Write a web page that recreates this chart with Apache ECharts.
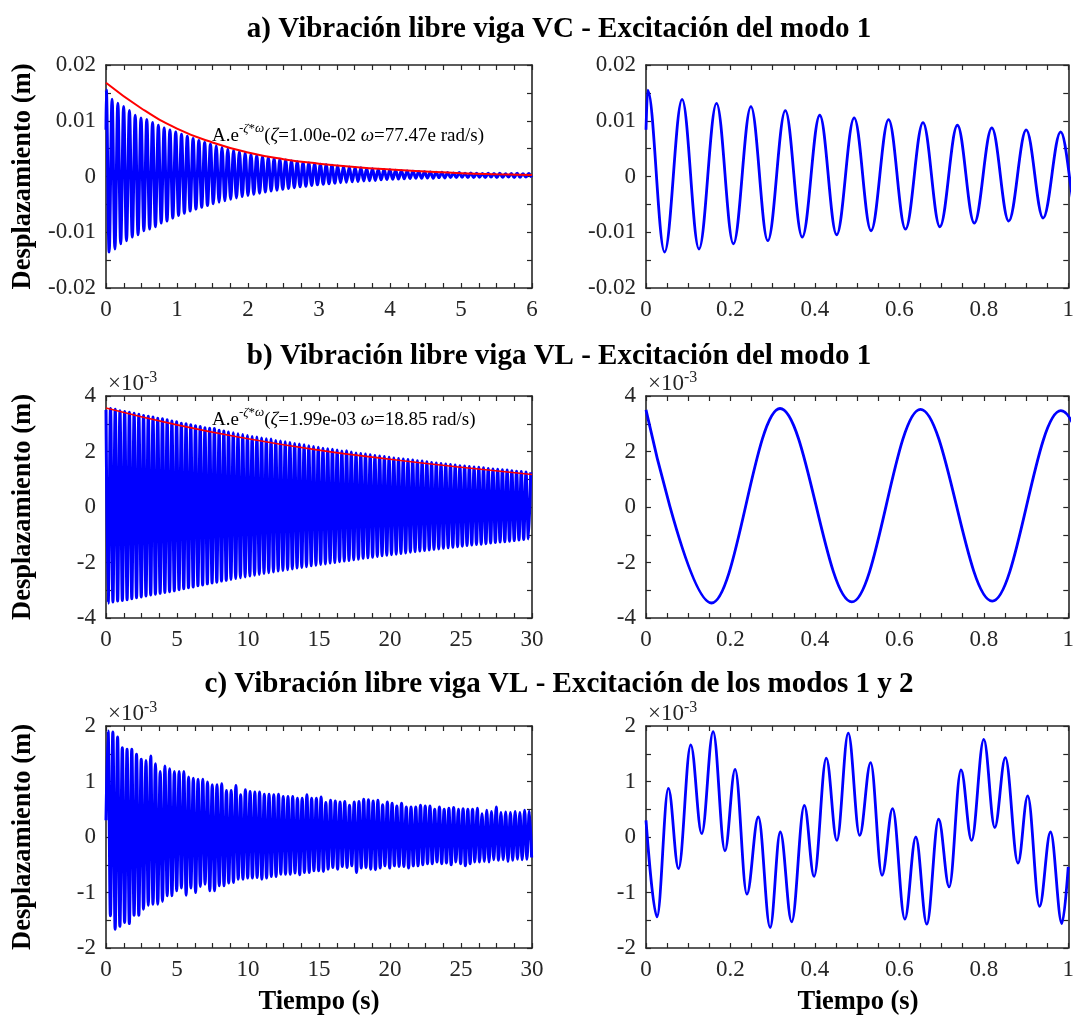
<!DOCTYPE html>
<html>
<head>
<meta charset="utf-8">
<script src="https://cdn.jsdelivr.net/npm/echarts@6.0.0/dist/echarts.min.js"></script>
<style>
html, body { margin: 0; padding: 0; background: #fff; }
#main { width: 1077px; height: 1019px; }
</style>
</head>
<body>
<div id="main"></div>
<script>
// ---- a) viga VC, modo 1 : extremos de cada ciclo (mm) ----
var aStart = 8.4;
var aPeriod = 0.0815;
var aPeakT0 = 0.004;
var aTroughT0 = 0.044;
var aPeaks = [15.5, 13.85, 13.13, 12.54, 11.82, 10.99, 10.51, 10.21, 9.67, 9.19, 8.72, 8.36, 8.0,
  7.6, 7.2, 6.8, 6.45, 6.1, 5.8, 5.5, 5.2, 4.95, 4.7, 4.45, 4.2, 4.0, 3.8, 3.6, 3.4, 3.25, 3.1,
  2.95, 2.8, 2.65, 2.5, 2.4, 2.3, 2.2, 2.1, 2.0, 1.9, 1.8, 1.7, 1.6, 1.55, 1.45, 1.4, 1.3, 1.25,
  1.2, 1.1, 1.05, 1.0, 0.95, 0.9, 0.85, 0.8, 0.75, 0.75, 0.7, 0.65, 0.7, 0.6, 0.65, 0.6, 0.55,
  0.6, 0.55, 0.6, 0.5, 0.55, 0.6, 0.5, 0.55];
var aTroughs = [-13.55, -13.0, -12.06, -11.52, -10.87, -10.45, -9.73, -9.43, -9.01, -8.36, -8.0, -7.46,
  -7.0, -6.6, -6.2, -5.85, -5.5, -5.2, -4.9, -4.6, -4.35, -4.1, -3.85, -3.6, -3.4, -3.2, -3.0,
  -2.8, -2.6, -2.45, -2.3, -2.15, -2.0, -1.85, -1.75, -1.6, -1.5, -1.4, -1.3, -1.2, -1.1, -1.05,
  -0.95, -0.9, -0.8, -0.75, -0.7, -0.6, -0.55, -0.5, -0.45, -0.4, -0.35, -0.3,
  -0.3, -0.25, -0.3, -0.2, -0.25, -0.2, -0.2, -0.15, -0.2, -0.2, -0.15, -0.2, -0.1, -0.2,
  -0.15, -0.1, -0.2, -0.15, -0.1, -0.15];
// curva de ajuste roja (mm)
var aFitT = [0, 0.5, 1, 1.5, 2, 2.5, 3, 3.5, 4, 4.5, 5, 5.5, 6];
var aFit = [16.8, 12.2, 8.6, 6.1, 4.3, 3.1, 2.3, 1.7, 1.25, 0.9, 0.6, 0.4, 0.25];

// ---- b) viga VL, modo 1 (x1e-3 m) ----
var bStart = 3.5;
var bPeriod = 0.3325;
var bTroughT0 = 0.155;
var bPeakT0 = 0.3175;
var bPeaks = [3.55, 3.52, 3.47, 3.44, 3.41, 3.38, 3.34, 3.30, 3.27, 3.24, 3.20, 3.18, 3.14, 3.10, 3.07,
  3.02, 3.00, 2.96, 2.93, 2.90, 2.86, 2.84, 2.83, 2.77, 2.74, 2.70, 2.68, 2.64, 2.61, 2.58,
  2.54, 2.52, 2.49, 2.46, 2.45, 2.40, 2.38, 2.35, 2.32, 2.29, 2.27, 2.24, 2.21, 2.18, 2.15,
  2.12, 2.10, 2.08, 2.05, 2.02, 2.03, 1.98, 1.95, 1.93, 1.91, 1.88, 1.86, 1.84, 1.82, 1.79,
  1.77, 1.75, 1.73, 1.71, 1.69, 1.67, 1.66, 1.63, 1.60, 1.59, 1.57, 1.55, 1.53, 1.51, 1.49,
  1.48, 1.46, 1.44, 1.43, 1.41, 1.39, 1.37, 1.36, 1.34, 1.33, 1.31, 1.29, 1.28, 1.26, 1.25];
var bTroughs = [-3.46, -3.42, -3.39, -3.37, -3.34, -3.31, -3.27, -3.24, -3.21, -3.17, -3.14, -3.11, -3.08, -3.05, -3.02,
  -2.98, -2.95, -2.91, -2.88, -2.84, -2.81, -2.77, -2.74, -2.71, -2.67, -2.64, -2.61, -2.58, -2.55, -2.52,
  -2.49, -2.46, -2.43, -2.40, -2.37, -2.34, -2.31, -2.29, -2.26, -2.23, -2.20, -2.18, -2.15, -2.12, -2.10,
  -2.07, -2.05, -2.02, -2.00, -1.97, -1.95, -1.93, -1.90, -1.88, -1.85, -1.83, -1.81, -1.78, -1.76, -1.74,
  -1.72, -1.70, -1.68, -1.66, -1.63, -1.61, -1.59, -1.57, -1.55, -1.53, -1.51, -1.49, -1.47, -1.45, -1.43,
  -1.41, -1.39, -1.37, -1.35, -1.34, -1.32, -1.30, -1.28, -1.26, -1.25, -1.23, -1.21, -1.19, -1.17, -1.15];
var bFitT = [0, 5, 10, 15, 20, 25, 30];
var bFit = [3.57, 2.96, 2.46, 2.05, 1.72, 1.43, 1.17];

// ---- c) viga VL, modos 1 y 2 (x1e-3 m) ----
// maximos y minimos de cada ciclo del modo 1 (registro completo)
var cStart = 0.3;
var cPeriod = 0.3333;
var cMaxT0 = 0.15;
var cMinT0 = 0.31;
var cMax = [1.91, 1.89, 1.80, 1.61, 1.58, 1.58, 1.49, 1.40, 1.38, 1.46, 1.32, 1.18, 1.28, 1.23, 1.18,
  1.18, 1.18, 1.08, 1.06, 1.04, 1.04, 0.99, 0.94, 0.94, 0.96, 0.84, 0.84, 0.93, 0.76, 0.85,
  0.82, 0.81, 0.81, 0.77, 0.77, 0.76, 0.77, 0.73, 0.73, 0.73, 0.70, 0.70, 0.76, 0.70, 0.70,
  0.72, 0.62, 0.66, 0.65, 0.63, 0.64, 0.57, 0.63, 0.64, 0.68, 0.67, 0.65, 0.66, 0.58, 0.63,
  0.61, 0.56, 0.61, 0.54, 0.54, 0.54, 0.57, 0.56, 0.56, 0.50, 0.54, 0.50, 0.52, 0.53, 0.50,
  0.51, 0.50, 0.50, 0.52, 0.42, 0.48, 0.46, 0.54, 0.44, 0.45, 0.44, 0.46, 0.44, 0.48, 0.47];
var cMin = [-1.42, -1.66, -1.61, -1.54, -1.56, -1.41, -1.41, -1.30, -1.23, -1.21, -1.21, -1.16, -1.06, -1.06, -0.97,
  -0.92, -1.05, -0.92, -1.00, -0.89, -0.85, -0.97, -0.97, -0.88, -0.88, -0.83, -0.82, -0.76, -0.76, -0.74,
  -0.74, -0.73, -0.76, -0.74, -0.71, -0.71, -0.67, -0.67, -0.67, -0.65, -0.68, -0.64, -0.64, -0.61, -0.61,
  -0.62, -0.58, -0.55, -0.58, -0.53, -0.55, -0.52, -0.64, -0.56, -0.55, -0.58, -0.59, -0.56, -0.52, -0.56,
  -0.52, -0.53, -0.53, -0.56, -0.52, -0.52, -0.50, -0.48, -0.48, -0.45, -0.48, -0.47, -0.50, -0.45, -0.48,
  -0.52, -0.48, -0.45, -0.45, -0.44, -0.45, -0.41, -0.42, -0.41, -0.44, -0.42, -0.40, -0.41, -0.40, -0.37];
var cZoomT = [0, 0.026, 0.053, 0.077, 0.106, 0.132, 0.159, 0.187, 0.211, 0.239, 0.266, 0.294, 0.318,
  0.345, 0.375, 0.398, 0.427, 0.452, 0.479, 0.506, 0.532, 0.559, 0.584, 0.613, 0.639, 0.665,
  0.693, 0.718, 0.746, 0.771, 0.800, 0.826, 0.851, 0.881, 0.904, 0.932, 0.958, 0.985, 1.0];
var cZoomV = [0.30, -1.44, 0.875, -0.57, 1.66, 0.06, 1.90, -0.25, 1.22, -1.03, 0.36, -1.63, 0.09,
  -1.53, 0.57, -0.71, 1.42, -0.06, 1.87, 0.03, 1.34, -0.69, 0.51, -1.48, 0.0, -1.57,
  0.32, -0.90, 1.21, -0.06, 1.76, 0.17, 1.43, -0.47, 0.74, -1.25, 0.09, -1.56, -0.54];

var FONT = '"Liberation Serif", "Times New Roman", serif';
var AX = '#262626';
var BLUE = '#0000ff';
var RED = '#ff0000';

function extremes(start, t0a, va, t0b, vb, period, scale) {
  var pts = [[0, start * scale]];
  va.forEach(function (v, k) { pts.push([t0a + k * period, v * scale]); });
  vb.forEach(function (v, k) { pts.push([t0b + k * period, v * scale]); });
  pts.sort(function (p, q) { return p[0] - q[0]; });
  return pts;
}
function pairs(ts, vs, scale) {
  return ts.map(function (t, i) { return [t, vs[i] * scale]; });
}

var aData = extremes(aStart, aPeakT0, aPeaks, aTroughT0, aTroughs, aPeriod, 0.001);
var bData = extremes(bStart, bPeakT0, bPeaks, bTroughT0, bTroughs, bPeriod, 1);
var cData = extremes(cStart, cMaxT0, cMax, cMinT0, cMin, cPeriod, 1);

var colsLeft = [106, 646];
var colsWidth = [426, 425];
var rowsTop = [65, 396, 726];
var rowsHeight = [223, 222, 222];

var grids = [], xAxes = [], yAxes = [], series = [];

function axis(gi, pos, r, labels) {
  return {
    type: 'value', gridIndex: gi, position: pos,
    min: r[0], max: r[1], interval: r[2],
    axisLine: { show: true, onZero: false, lineStyle: { color: AX, width: 1.6 } },
    axisTick: { show: true, inside: true, length: 5, lineStyle: { color: AX, width: 1.2 } },
    minorTick: { show: true, splitNumber: r[3], length: 5, lineStyle: { color: AX, width: 1.2 } },
    splitLine: { show: false },
    minorSplitLine: { show: false },
    axisLabel: {
      show: labels, color: AX, fontFamily: FONT, fontSize: 23, margin: 10,
      showMinLabel: true, showMaxLabel: true, hideOverlap: false
    }
  };
}

function panel(col, row, xr, yr) {
  var gi = grids.length;
  grids.push({ left: colsLeft[col], top: rowsTop[row], width: colsWidth[col], height: rowsHeight[row], show: false });
  xAxes.push(axis(gi, 'bottom', xr, true));
  xAxes.push(axis(gi, 'top', xr, false));
  yAxes.push(axis(gi, 'left', yr, true));
  yAxes.push(axis(gi, 'right', yr, false));
  return gi;
}

// senal: suavizado monotono en x (tangente horizontal en los extremos)
function addSignal(gi, data, width) {
  series.push({
    type: 'line', xAxisIndex: gi * 2, yAxisIndex: gi * 2, data: data,
    symbol: 'none', smooth: 0.36, smoothMonotone: 'x',
    lineStyle: { color: BLUE, width: width }, z: 2, silent: true
  });
}
// ajuste exponencial
function addFit(gi, data, width) {
  series.push({
    type: 'line', xAxisIndex: gi * 2, yAxisIndex: gi * 2, data: data,
    symbol: 'none', smooth: 0.5,
    lineStyle: { color: RED, width: width }, z: 3, silent: true
  });
}

var yA = [-0.02, 0.02, 0.01, 2];
var yB = [-4, 4, 2, 2];
var yC = [-2, 2, 1, 2];
var xShort = [0, 1, 0.2, 4];

var p0 = panel(0, 0, [0, 6, 1, 4], yA);
addSignal(p0, aData, 3);
addFit(p0, pairs(aFitT, aFit, 0.001), 2);
var p1 = panel(1, 0, xShort, yA);
addSignal(p1, aData, 2.8);

var p2 = panel(0, 1, [0, 30, 5, 4], yB);
addSignal(p2, bData, 3);
addFit(p2, pairs(bFitT, bFit, 1), 1.6);
var p3 = panel(1, 1, xShort, yB);
addSignal(p3, bData, 2.8);

var p4 = panel(0, 2, [0, 30, 5, 4], yC);
addSignal(p4, cData, 3);
var p5 = panel(1, 2, xShort, yC);
addSignal(p5, pairs(cZoomT, cZoomV, 1), 2.8);

function txt(x, y, text, size, bold, opts) {
  opts = opts || {};
  var o = {
    type: 'text', x: x, y: y, silent: true,
    style: {
      text: text, fill: opts.fill || '#000',
      fontFamily: FONT, fontSize: size, fontWeight: bold ? 'bold' : 'normal',
      align: opts.align || 'center', verticalAlign: opts.va || 'middle',
      textAlign: opts.align || 'center', textVerticalAlign: opts.va || 'middle'
    }
  };
  if (opts.rotation) o.rotation = opts.rotation;
  if (opts.rich) o.style.rich = opts.rich;
  return o;
}

var titles = [
  'a) Vibración libre viga VC - Excitación del modo 1',
  'b) Vibración libre viga VL - Excitación del modo 1',
  'c) Vibración libre viga VL - Excitación de los modos 1 y 2'
];
var titleY = [30, 357, 685];
var graphics = [];
titles.forEach(function (t, i) { graphics.push(txt(559, titleY[i], t, 29, true)); });
rowsTop.forEach(function (top, i) {
  graphics.push(txt(23, top + rowsHeight[i] / 2, 'Desplazamiento (m)', 26.5, true, { rotation: Math.PI / 2 }));
});
graphics.push(txt(319, 1002, 'Tiempo (s)', 26.5, true));
graphics.push(txt(858, 1002, 'Tiempo (s)', 26.5, true));

var expRich = {
  a: { fontFamily: FONT, fontSize: 23, lineHeight: 28, fill: AX },
  b: { fontFamily: FONT, fontSize: 16, lineHeight: 16, verticalAlign: 'top', fill: AX }
};
[[108, 384], [648, 384], [108, 714], [648, 714]].forEach(function (p) {
  graphics.push(txt(p[0], p[1], '{a|×10}{b|-3}', 23, false, { align: 'left', rich: expRich, fill: AX }));
});

var annRich = {
  n: { fontFamily: FONT, fontSize: 19, lineHeight: 28, fill: '#000' },
  i: { fontFamily: FONT, fontSize: 19, lineHeight: 28, fontStyle: 'italic', fill: '#000' },
  s: { fontFamily: FONT, fontSize: 13, lineHeight: 14, verticalAlign: 'top', fill: '#000' },
  si: { fontFamily: FONT, fontSize: 13, lineHeight: 14, verticalAlign: 'top', fontStyle: 'italic', fill: '#000' }
};
graphics.push(txt(212, 136, '{n|A.e}{s|-}{si|ζ}{s|*}{si|ω}{n|(}{i|ζ}{n|=1.00e-02 }{i|ω}{n|=77.47e rad/s)}', 19, false, { align: 'left', rich: annRich }));
graphics.push(txt(212, 420, '{n|A.e}{s|-}{si|ζ}{s|*}{si|ω}{n|(}{i|ζ}{n|=1.99e-03 }{i|ω}{n|=18.85 rad/s)}', 19, false, { align: 'left', rich: annRich }));

var chart = echarts.init(document.getElementById('main'), null, { renderer: 'canvas' });
chart.setOption({
  backgroundColor: '#fff',
  animation: false,
  grid: grids,
  xAxis: xAxes,
  yAxis: yAxes,
  series: series,
  graphic: { elements: graphics }
});
</script>
</body>
</html>
